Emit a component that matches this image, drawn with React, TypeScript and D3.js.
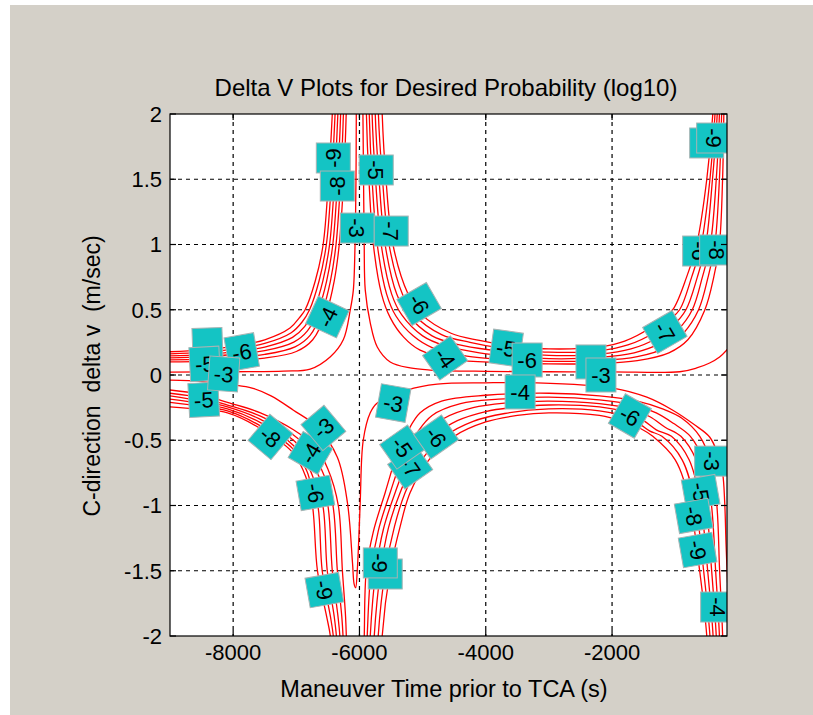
import React, { useRef, useEffect } from "react";
import * as d3 from "d3";

type Pt = [number, number];
type Curve = { level: number; pts: Pt[] };
type Label = { text: string; t: number; v: number; rot: number };

const xTicks = [-8000, -6000, -4000, -2000];
const yTicks = [-2, -1.5, -1, -0.5, 0, 0.5, 1, 1.5, 2];

// upper left bundle (v > 0, before the first null)
const upperLeft: Curve[] = [
  { level: -3, pts: [[-9000, 0.022], [-8000, 0.025], [-7200, 0.03], [-6780, 0.045], [-6460, 0.14], [-6256, 0.27], [-6145, 0.5], [-6097, 0.65], [-6070, 1.0], [-6055, 1.5], [-6050, 2.0], [-6048, 2.3]] },
  { level: -4, pts: [[-9000, 0.1], [-8500, 0.105], [-8000, 0.115], [-7500, 0.13], [-7000, 0.18], [-6740, 0.27], [-6510, 0.5], [-6400, 0.72], [-6320, 1.0], [-6250, 1.5], [-6210, 2.0], [-6200, 2.3]] },
  { level: -5, pts: [[-9000, 0.116], [-8500, 0.122], [-8000, 0.136], [-7500, 0.158], [-7020, 0.216], [-6782, 0.304], [-6580, 0.5], [-6460, 0.72], [-6371, 1.0], [-6298, 1.5], [-6254, 2.0], [-6242, 2.3]] },
  { level: -6, pts: [[-9000, 0.131], [-8500, 0.139], [-8000, 0.157], [-7500, 0.186], [-7040, 0.252], [-6824, 0.338], [-6650, 0.5], [-6520, 0.72], [-6422, 1.0], [-6346, 1.5], [-6298, 2.0], [-6284, 2.3]] },
  { level: -7, pts: [[-9000, 0.147], [-8500, 0.156], [-8000, 0.178], [-7500, 0.214], [-7060, 0.288], [-6866, 0.372], [-6720, 0.5], [-6580, 0.72], [-6473, 1.0], [-6394, 1.5], [-6342, 2.0], [-6326, 2.3]] },
  { level: -8, pts: [[-9000, 0.162], [-8500, 0.173], [-8000, 0.199], [-7500, 0.242], [-7080, 0.324], [-6908, 0.406], [-6790, 0.5], [-6640, 0.72], [-6524, 1.0], [-6442, 1.5], [-6386, 2.0], [-6368, 2.3]] },
  { level: -9, pts: [[-9000, 0.178], [-8500, 0.19], [-8000, 0.22], [-7500, 0.27], [-7100, 0.36], [-6950, 0.44], [-6860, 0.5], [-6700, 0.72], [-6575, 1.0], [-6490, 1.5], [-6430, 2.0], [-6410, 2.3]] },
];

// upper middle U (v > 0, between the two nulls)
const upperMiddle: Curve[] = [
  { level: -3, pts: [[-5950, 2.3], [-5945, 2.0], [-5935, 1.5], [-5925, 1.0], [-5908, 0.65], [-5829, 0.4], [-5718, 0.215], [-5513, 0.1], [-5197, 0.054], [-4881, 0.038], [-4000, 0.028], [-3000, 0.025], [-2000, 0.024], [-929, 0.025], [-660, 0.054], [-455, 0.092], [-297, 0.138], [-186, 0.19], [-120, 0.23]] },
  { level: -4, pts: [[-5895, 2.3], [-5890, 2.0], [-5850, 1.5], [-5780, 1.0], [-5650, 0.62], [-5513, 0.44], [-5300, 0.29], [-5040, 0.19], [-4500, 0.12], [-3800, 0.095], [-3000, 0.085], [-2200, 0.088], [-1600, 0.11], [-1100, 0.17], [-800, 0.27], [-530, 0.5], [-390, 0.75], [-300, 1.0], [-250, 1.5], [-230, 2.0], [-222, 2.3]] },
  { level: -5, pts: [[-5850, 2.3], [-5845, 2.0], [-5800, 1.5], [-5718, 1.0], [-5570, 0.62], [-5420, 0.45], [-5150, 0.3], [-4850, 0.21], [-4300, 0.145], [-3700, 0.12], [-3000, 0.105], [-2200, 0.11], [-1600, 0.14], [-1150, 0.21], [-870, 0.32], [-630, 0.5], [-480, 0.75], [-372, 1.0], [-300, 1.5], [-265, 2.0], [-255, 2.3]] },
  { level: -6, pts: [[-5805, 2.3], [-5800, 2.0], [-5745, 1.5], [-5656, 1.0], [-5490, 0.62], [-5330, 0.46], [-5000, 0.3], [-4650, 0.225], [-4100, 0.17], [-3600, 0.145], [-3000, 0.125], [-2200, 0.135], [-1650, 0.17], [-1250, 0.24], [-950, 0.35], [-730, 0.5], [-570, 0.75], [-444, 1.0], [-350, 1.5], [-300, 2.0], [-290, 2.3]] },
  { level: -7, pts: [[-5755, 2.3], [-5750, 2.0], [-5690, 1.5], [-5594, 1.0], [-5410, 0.62], [-5230, 0.46], [-4850, 0.3], [-4450, 0.235], [-3900, 0.19], [-3500, 0.17], [-3000, 0.15], [-2200, 0.16], [-1700, 0.2], [-1300, 0.28], [-1030, 0.38], [-830, 0.5], [-650, 0.75], [-516, 1.0], [-410, 1.5], [-335, 2.0], [-322, 2.3]] },
  { level: -8, pts: [[-5705, 2.3], [-5700, 2.0], [-5635, 1.5], [-5532, 1.0], [-5320, 0.62], [-5130, 0.46], [-4700, 0.31], [-4250, 0.25], [-3800, 0.21], [-3400, 0.19], [-3000, 0.175], [-2200, 0.185], [-1750, 0.23], [-1350, 0.32], [-1100, 0.42], [-930, 0.5], [-740, 0.75], [-588, 1.0], [-450, 1.5], [-370, 2.0], [-355, 2.3]] },
  { level: -9, pts: [[-5650, 2.3], [-5640, 2.0], [-5580, 1.5], [-5470, 1.0], [-5230, 0.62], [-5030, 0.47], [-4550, 0.32], [-4100, 0.265], [-3700, 0.23], [-3300, 0.21], [-3000, 0.2], [-2200, 0.215], [-1800, 0.26], [-1400, 0.36], [-1200, 0.44], [-1040, 0.5], [-820, 0.75], [-660, 1.0], [-500, 1.5], [-405, 2.0], [-385, 2.3]] },
];

// lower left bundle (v < 0, before the first null)
const lowerLeft: Curve[] = [
  { level: -4, pts: [[-9000, -0.115], [-8500, -0.15], [-8090, -0.21], [-7568, -0.29], [-7045, -0.42], [-6700, -0.55], [-6500, -0.72], [-6335, -1.0], [-6270, -1.5], [-6220, -1.85], [-6208, -2.0], [-6195, -2.3]] },
  { level: -5, pts: [[-9000, -0.14], [-8500, -0.175], [-8090, -0.23], [-7568, -0.315], [-7045, -0.46], [-6740, -0.6], [-6560, -0.77], [-6420, -1.0], [-6350, -1.5], [-6280, -1.85], [-6260, -2.0], [-6240, -2.3]] },
  { level: -6, pts: [[-9000, -0.16], [-8500, -0.2], [-8090, -0.245], [-7568, -0.34], [-7045, -0.5], [-6780, -0.65], [-6620, -0.8], [-6500, -1.0], [-6430, -1.5], [-6340, -1.85], [-6310, -2.0], [-6285, -2.3]] },
  { level: -7, pts: [[-9000, -0.185], [-8500, -0.22], [-8090, -0.26], [-7568, -0.365], [-7045, -0.54], [-6810, -0.7], [-6700, -0.83], [-6580, -1.0], [-6510, -1.5], [-6400, -1.85], [-6365, -2.0], [-6335, -2.3]] },
  { level: -8, pts: [[-9000, -0.21], [-8500, -0.24], [-8090, -0.275], [-7568, -0.39], [-7045, -0.57], [-6830, -0.74], [-6740, -0.9], [-6660, -1.0], [-6590, -1.5], [-6460, -1.85], [-6414, -2.0], [-6380, -2.3]] },
  { level: -9, pts: [[-9000, -0.245], [-8500, -0.265], [-8090, -0.29], [-7568, -0.41], [-7045, -0.6], [-6850, -0.78], [-6744, -1.0], [-6665, -1.5], [-6520, -1.85], [-6461, -2.0], [-6420, -2.3]] },
];

// lower middle arch (v < 0, between the two nulls)
const lowerMiddle: Curve[] = [
  { level: -4, pts: [[-5940, -2.3], [-5924, -2.0], [-5892, -1.5], [-5780, -1.2], [-5592, -0.9], [-5400, -0.6], [-5245, -0.44], [-5039, -0.29], [-4700, -0.2], [-4000, -0.155], [-3000, -0.14], [-2200, -0.16], [-1600, -0.2], [-1200, -0.26], [-900, -0.33], [-611, -0.47], [-450, -0.65], [-344, -0.98], [-297, -1.5], [-249, -2.0], [-240, -2.3]] },
  { level: -5, pts: [[-5895, -2.3], [-5877, -2.0], [-5816, -1.5], [-5700, -1.19], [-5513, -0.9], [-5300, -0.61], [-5100, -0.45], [-4850, -0.31], [-4400, -0.22], [-3800, -0.185], [-3000, -0.17], [-2200, -0.19], [-1650, -0.23], [-1300, -0.29], [-1030, -0.37], [-760, -0.47], [-560, -0.65], [-430, -0.98], [-360, -1.5], [-300, -2.0], [-286, -2.3]] },
  { level: -6, pts: [[-5845, -2.3], [-5829, -2.0], [-5740, -1.5], [-5620, -1.18], [-5434, -0.9], [-5200, -0.62], [-4950, -0.46], [-4650, -0.33], [-4200, -0.25], [-3700, -0.215], [-3000, -0.2], [-2200, -0.22], [-1700, -0.26], [-1400, -0.32], [-1160, -0.4], [-910, -0.47], [-670, -0.65], [-515, -0.98], [-423, -1.5], [-350, -2.0], [-332, -2.3]] },
  { level: -7, pts: [[-5785, -2.3], [-5766, -2.0], [-5665, -1.5], [-5540, -1.17], [-5355, -0.9], [-5100, -0.63], [-4800, -0.46], [-4450, -0.35], [-4000, -0.28], [-3600, -0.25], [-3000, -0.23], [-2200, -0.245], [-1750, -0.29], [-1500, -0.35], [-1300, -0.42], [-1060, -0.47], [-780, -0.65], [-600, -0.98], [-486, -1.5], [-400, -2.0], [-378, -2.3]] },
  { level: -8, pts: [[-5720, -2.3], [-5703, -2.0], [-5590, -1.5], [-5445, -1.16], [-5276, -0.9], [-5000, -0.64], [-4650, -0.47], [-4200, -0.355], [-3700, -0.295], [-3000, -0.26], [-2200, -0.275], [-1780, -0.32], [-1550, -0.38], [-1400, -0.43], [-1210, -0.47], [-890, -0.65], [-685, -0.98], [-550, -1.5], [-450, -2.0], [-424, -2.3]] },
  { level: -9, pts: [[-5655, -2.3], [-5640, -2.0], [-5513, -1.5], [-5350, -1.15], [-5197, -0.9], [-4900, -0.65], [-4500, -0.47], [-4000, -0.36], [-3500, -0.31], [-3000, -0.29], [-2200, -0.31], [-1800, -0.36], [-1550, -0.41], [-1355, -0.47], [-1000, -0.65], [-771, -0.98], [-613, -1.5], [-500, -2.0], [-470, -2.3]] },
];

// the -3 contour below zero runs as one line through the narrow tongue at the null
const lowerThree: Curve[] = [
  { level: -3, pts: [[-9000, -0.04], [-8500, -0.05], [-8000, -0.075], [-7700, -0.1], [-7400, -0.16], [-7045, -0.27], [-6665, -0.4], [-6350, -0.63], [-6190, -0.98], [-6110, -1.44], [-6085, -1.6], [-6060, -1.63], [-6035, -1.5], [-6010, -1.25], [-5987, -0.96], [-5940, -0.5], [-5829, -0.29], [-5718, -0.215], [-5245, -0.115], [-4770, -0.07], [-4000, -0.06], [-3250, -0.06], [-1985, -0.1], [-1449, -0.17], [-1038, -0.27], [-700, -0.38], [-455, -0.475], [-330, -0.6], [-250, -0.75], [-216, -0.98], [-195, -1.3], [-170, -1.6]] },
];

// clabel boxes, drawn in this order (later ones on top); "" = box hidden behind another
const labels: Label[] = [
  { text: "-9", t: -6414, v: 1.663, rot: -90 },
  { text: "-8", t: -6351, v: 1.448, rot: -90 },
  { text: "-5", t: -5734, v: 1.571, rot: 90 },
  { text: "-3", t: -6034, v: 1.126, rot: 90 },
  { text: "-7", t: -5497, v: 1.103, rot: 90 },
  { text: "-4", t: -6508, v: 0.444, rot: -65 },
  { text: "-6", t: -5055, v: 0.544, rot: 60 },
  { text: "", t: -8406, v: 0.23, rot: -2 },
  { text: "-5", t: -8450, v: 0.085, rot: -3 },
  { text: "-6", t: -7864, v: 0.176, rot: -10 },
  { text: "-5", t: -8466, v: -0.19, rot: -3 },
  { text: "-3", t: -8150, v: 0.008, rot: 4 },
  { text: "-4", t: -4644, v: 0.13, rot: 55 },
  { text: "-5", t: -3677, v: 0.207, rot: 8 },
  { text: "-6", t: -3345, v: 0.115, rot: 0 },
  { text: "", t: -2334, v: 0.1, rot: 0 },
  { text: "-3", t: -2176, v: 0.0, rot: 0 },
  { text: "-7", t: -1164, v: 0.33, rot: 60 },
  { text: "", t: -502, v: 1.778, rot: 90 },
  { text: "-9", t: -391, v: 1.816, rot: 90 },
  { text: "-6", t: -613, v: 0.95, rot: 90 },
  { text: "-8", t: -344, v: 0.958, rot: 90 },
  { text: "-3", t: -5465, v: -0.215, rot: 10 },
  { text: "-4", t: -3456, v: -0.13, rot: 0 },
  { text: "-6", t: -1718, v: -0.314, rot: 30 },
  { text: "-8", t: -7410, v: -0.475, rot: 40 },
  { text: "-4", t: -6777, v: -0.598, rot: -60 },
  { text: "-3", t: -6571, v: -0.406, rot: -40 },
  { text: "-6", t: -6698, v: -0.904, rot: 80 },
  { text: "-9", t: -6556, v: -1.648, rot: 80 },
  { text: "-7", t: -5197, v: -0.705, rot: 55 },
  { text: "-5", t: -5323, v: -0.552, rot: 55 },
  { text: "-6", t: -4786, v: -0.475, rot: 55 },
  { text: "", t: -5592, v: -1.525, rot: 90 },
  { text: "-9", t: -5670, v: -1.44, rot: 90 },
  { text: "-3", t: -423, v: -0.66, rot: 90 },
  { text: "-5", t: -597, v: -0.897, rot: 80 },
  { text: "-8", t: -708, v: -1.08, rot: 80 },
  { text: "-9", t: -645, v: -1.341, rot: 80 },
  { text: "-4", t: -328, v: -1.778, rot: 90 },
];

const FONT = "'Liberation Sans', Arial, sans-serif";

const DeltaVChart = () => {
  const ref = useRef<SVGSVGElement>(null);

  useEffect(() => {
    const svg = d3.select(ref.current);
    svg.selectAll("*").remove();

    const W = 813;
    const H = 715;
    const margin = { top: 114, right: 86, bottom: 79, left: 170 };
    const width = W - margin.left - margin.right;
    const height = H - margin.top - margin.bottom;

    svg.attr("width", W).attr("height", H);

    // figure background
    svg.append("rect").attr("width", W).attr("height", H).attr("fill", "#ffffff");
    svg
      .append("rect")
      .attr("x", 10)
      .attr("y", 5)
      .attr("width", W - 10)
      .attr("height", H - 5)
      .attr("fill", "#d4d0c8");

    const x = d3.scaleLinear().domain([-9000, -180]).range([0, width]);
    const y = d3.scaleLinear().domain([-2, 2]).range([height, 0]);

    const g = svg
      .append("g")
      .attr("transform", `translate(${margin.left},${margin.top})`);

    svg
      .append("defs")
      .append("clipPath")
      .attr("id", "plot-clip")
      .append("rect")
      .attr("width", width)
      .attr("height", height);

    g.append("rect").attr("width", width).attr("height", height).attr("fill", "#ffffff");

    // grid
    const grid = g.append("g").attr("stroke", "#000").attr("stroke-width", 1.2).attr("stroke-dasharray", "4,4");
    xTicks.forEach((t) => {
      grid.append("line").attr("x1", x(t)).attr("x2", x(t)).attr("y1", 0).attr("y2", height);
    });
    yTicks
      .filter((v) => v > -2 && v < 2)
      .forEach((v) => {
        grid.append("line").attr("x1", 0).attr("x2", width).attr("y1", y(v)).attr("y2", y(v));
      });

    // contours
    const line = d3
      .line<Pt>()
      .x((d) => x(d[0]))
      .y((d) => y(d[1]))
      .curve(d3.curveCatmullRom.alpha(0.5));

    const plot = g.append("g").attr("clip-path", "url(#plot-clip)");
    [upperLeft, upperMiddle, lowerLeft, lowerMiddle, lowerThree].forEach((family) => {
      plot
        .selectAll(null)
        .data(family)
        .enter()
        .append("path")
        .attr("d", (d) => line(d.pts))
        .attr("fill", "none")
        .attr("stroke", "#ff0000")
        .attr("stroke-width", 1.3);
    });

    // contour labels
    const lab = plot
      .selectAll(".clab")
      .data(labels)
      .enter()
      .append("g")
      .attr("class", "clab")
      .attr("transform", (d) => `translate(${x(d.t)},${y(d.v)}) rotate(${d.rot})`);
    lab
      .append("rect")
      .attr("x", -15)
      .attr("y", -17)
      .attr("width", 30)
      .attr("height", 34)
      .attr("fill", "#14c4c4")
      .attr("stroke", "#a8b4b4")
      .attr("stroke-width", 1);
    lab
      .filter((d) => d.text !== "")
      .append("text")
      .attr("text-anchor", "middle")
      .attr("dy", "0.36em")
      .attr("font-family", FONT)
      .attr("font-size", 22)
      .attr("fill", "#000")
      .text((d) => d.text);

    // box and ticks
    g.append("rect")
      .attr("width", width)
      .attr("height", height)
      .attr("fill", "none")
      .attr("stroke", "#000")
      .attr("stroke-width", 1.2);

    const tk = g.append("g").attr("stroke", "#000").attr("stroke-width", 1.2);
    xTicks.forEach((t) => {
      tk.append("line").attr("x1", x(t)).attr("x2", x(t)).attr("y1", height).attr("y2", height - 6);
      tk.append("line").attr("x1", x(t)).attr("x2", x(t)).attr("y1", 0).attr("y2", 6);
    });
    yTicks.forEach((v) => {
      tk.append("line").attr("x1", 0).attr("x2", 6).attr("y1", y(v)).attr("y2", y(v));
      tk.append("line").attr("x1", width).attr("x2", width - 6).attr("y1", y(v)).attr("y2", y(v));
    });

    // tick labels
    g.selectAll(".xtl")
      .data(xTicks)
      .enter()
      .append("text")
      .attr("x", (d) => x(d))
      .attr("y", height + 24)
      .attr("text-anchor", "middle")
      .attr("font-family", FONT)
      .attr("font-size", 22)
      .text((d) => String(d));

    g.selectAll(".ytl")
      .data(yTicks)
      .enter()
      .append("text")
      .attr("x", -8)
      .attr("y", (d) => y(d))
      .attr("dy", "0.36em")
      .attr("text-anchor", "end")
      .attr("font-family", FONT)
      .attr("font-size", 22)
      .text((d) => String(d));

    // titles
    svg
      .append("text")
      .attr("x", 446)
      .attr("y", 96)
      .attr("text-anchor", "middle")
      .attr("font-family", FONT)
      .attr("font-size", 24)
      .text("Delta V Plots for Desired Probability (log10)");

    svg
      .append("text")
      .attr("x", 444)
      .attr("y", 697)
      .attr("text-anchor", "middle")
      .attr("font-family", FONT)
      .attr("font-size", 23.5)
      .text("Maneuver Time prior to TCA (s)");

    svg
      .append("text")
      .attr("transform", "translate(100,376) rotate(-90)")
      .attr("text-anchor", "middle")
      .attr("font-family", FONT)
      .attr("font-size", 23)
      .style("white-space", "pre")
      .text("C-direction  delta v  (m/sec)");
  }, []);

  return <svg ref={ref} style={{ display: "block", position: "absolute", left: 0, top: 0 }} />;
};

export default function App() {
  return <DeltaVChart />;
}
